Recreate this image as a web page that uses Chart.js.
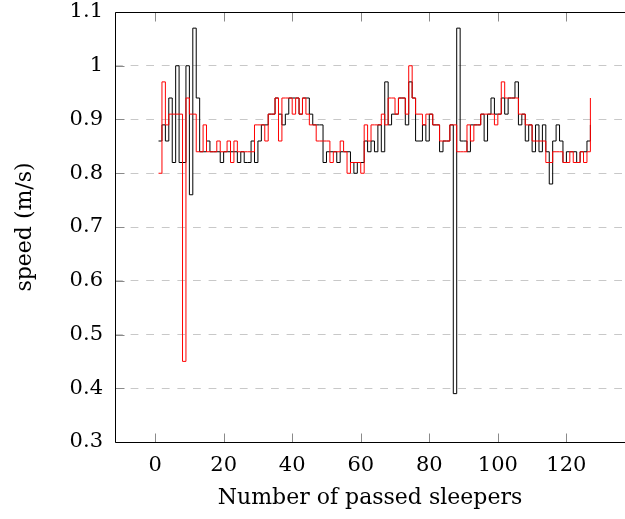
<!DOCTYPE html>
<html>
<head>
<meta charset="utf-8">
<title>Speed per sleeper</title>
<script src="https://cdn.jsdelivr.net/npm/chart.js@4.4.1/dist/chart.umd.min.js"></script>
<style>
  html, body { margin: 0; padding: 0; background: #fff; }
  #wrap { width: 625px; height: 519px; }
</style>
</head>
<body>
<div id="wrap"><canvas id="speedChart" width="625" height="519"></canvas></div>
<script>
(function () {
    "use strict";

    // Sleeper index (x) and measured speeds in m/s for both runs
    const sleepers = Array.from({ length: 127 }, (_, i) => i + 1);

    const speedBlack = [
        0.86, 0.89, 0.86, 0.94, 0.82, 1.00, 0.82, 0.82, 1.00, 0.76,
        1.07, 0.94, 0.84, 0.84, 0.86, 0.84, 0.84, 0.84, 0.82, 0.84,
        0.84, 0.84, 0.84, 0.82, 0.84, 0.82, 0.82, 0.86, 0.82, 0.86,
        0.89, 0.89, 0.91, 0.91, 0.94, 0.91, 0.89, 0.91, 0.94, 0.94,
        0.94, 0.91, 0.94, 0.94, 0.91, 0.89, 0.89, 0.89, 0.82, 0.84,
        0.84, 0.84, 0.82, 0.84, 0.84, 0.84, 0.82, 0.80, 0.82, 0.82,
        0.86, 0.84, 0.86, 0.84, 0.89, 0.84, 0.97, 0.89, 0.91, 0.91,
        0.94, 0.94, 0.89, 0.97, 0.94, 0.86, 0.86, 0.89, 0.86, 0.91,
        0.89, 0.89, 0.84, 0.86, 0.86, 0.89, 0.39, 1.07, 0.86, 0.86,
        0.84, 0.89, 0.89, 0.89, 0.91, 0.86, 0.91, 0.94, 0.91, 0.91,
        0.94, 0.91, 0.94, 0.94, 0.97, 0.89, 0.91, 0.86, 0.89, 0.84,
        0.89, 0.84, 0.89, 0.84, 0.78, 0.86, 0.89, 0.86, 0.82, 0.84,
        0.84, 0.84, 0.82, 0.84, 0.84, 0.86, 0.89
    ];

    const speedRed = [
        0.80, 0.97, 0.89, 0.91, 0.91, 0.91, 0.91, 0.45, 0.94, 0.91,
        0.91, 0.84, 0.84, 0.89, 0.84, 0.84, 0.84, 0.86, 0.84, 0.84,
        0.86, 0.82, 0.86, 0.84, 0.84, 0.84, 0.84, 0.84, 0.89, 0.89,
        0.89, 0.86, 0.91, 0.91, 0.94, 0.86, 0.94, 0.94, 0.94, 0.91,
        0.94, 0.91, 0.94, 0.91, 0.89, 0.89, 0.86, 0.86, 0.86, 0.86,
        0.82, 0.84, 0.84, 0.86, 0.84, 0.80, 0.82, 0.82, 0.82, 0.80,
        0.89, 0.86, 0.89, 0.89, 0.89, 0.91, 0.89, 0.94, 0.94, 0.91,
        0.94, 0.94, 0.91, 1.00, 0.94, 0.91, 0.91, 0.89, 0.91, 0.91,
        0.89, 0.89, 0.86, 0.86, 0.86, 0.89, 0.89, 0.84, 0.84, 0.84,
        0.89, 0.86, 0.89, 0.89, 0.91, 0.91, 0.91, 0.91, 0.89, 0.91,
        0.97, 0.94, 0.94, 0.94, 0.94, 0.91, 0.91, 0.89, 0.89, 0.86,
        0.86, 0.86, 0.86, 0.82, 0.82, 0.84, 0.84, 0.84, 0.82, 0.82,
        0.84, 0.82, 0.82, 0.84, 0.82, 0.84, 0.94
    ];

    const xTicks = [0, 20, 40, 60, 80, 100, 120];
    const yTicks = [0.3, 0.4, 0.5, 0.6, 0.7, 0.8, 0.9, 1.0, 1.1];

    const serif = 'DejaVu Serif';
    const tickLen = 9;

    const toPoints = (ys) => ys.map((y, i) => ({ x: sleepers[i], y: y }));

    // Axis frame (left/top/bottom) plus inward tick marks
    const frame = {
        id: 'frame',
        beforeDatasetsDraw(chart) {
            const { ctx, chartArea: a, scales: { x, y } } = chart;
            const l = Math.round(a.left) + 0.5;
            const t = Math.round(a.top) + 0.5;
            const b = Math.round(a.bottom) + 0.5;
            ctx.save();
            ctx.lineWidth = 1;
            ctx.strokeStyle = '#8a8a8a';
            ctx.beginPath();
            xTicks.forEach(v => {
                const px = Math.round(x.getPixelForValue(v)) + 0.5;
                ctx.moveTo(px, b); ctx.lineTo(px, b - tickLen);
                ctx.moveTo(px, t); ctx.lineTo(px, t + tickLen);
            });
            yTicks.forEach(v => {
                const py = Math.round(y.getPixelForValue(v)) + 0.5;
                ctx.moveTo(l, py); ctx.lineTo(l + tickLen, py);
            });
            ctx.stroke();
            ctx.strokeStyle = '#000';
            ctx.beginPath();
            ctx.moveTo(a.right, t);
            ctx.lineTo(l, t);
            ctx.lineTo(l, b);
            ctx.lineTo(a.right, b);
            ctx.stroke();
            ctx.restore();
        }
    };

    const ctx = document.getElementById('speedChart').getContext('2d');
    new Chart(ctx, {
        type: 'line',
        data: {
            datasets: [{
                label: 'run 2',
                data: toPoints(speedRed),
                borderColor: '#ff0000',
                borderWidth: 1,
                stepped: true,
                pointRadius: 0,
                fill: false,
                order: 0
            }, {
                label: 'run 1',
                data: toPoints(speedBlack),
                borderColor: '#000000',
                borderWidth: 1,
                stepped: true,
                pointRadius: 0,
                fill: false,
                order: 1
            }]
        },
        options: {
            responsive: false,
            devicePixelRatio: 1,
            animation: false,
            layout: { padding: { top: 12, left: 0, right: 0, bottom: 0 } },
            plugins: {
                legend: { display: false },
                tooltip: { enabled: false }
            },
            scales: {
                x: {
                    type: 'linear',
                    min: -11.7,
                    max: 137.1,
                    afterBuildTicks: (scale) => { scale.ticks = xTicks.map(v => ({ value: v })); },
                    afterFit: (scale) => {
                        scale.height = 77;
                        scale.paddingLeft = 0;
                        scale.paddingRight = 0;
                    },
                    grid: { display: false, drawTicks: false },
                    border: { display: false },
                    ticks: {
                        color: '#000',
                        padding: 11,
                        maxRotation: 0,
                        autoSkip: false,
                        font: { family: serif, size: 21 }
                    },
                    title: {
                        display: true,
                        text: 'Number of passed sleepers',
                        color: '#000',
                        font: { family: serif, size: 22 },
                        padding: { top: 0, bottom: 8 }
                    }
                },
                y: {
                    type: 'linear',
                    min: 0.3,
                    max: 1.1,
                    afterBuildTicks: (scale) => { scale.ticks = yTicks.map(v => ({ value: v })); },
                    afterFit: (scale) => {
                        scale.width = 115;
                        scale.paddingTop = 0;
                        scale.paddingBottom = 0;
                    },
                    grid: { color: '#c8c8c8', lineWidth: 1, drawTicks: false },
                    border: { display: false, dash: [7.8, 7.8] },
                    ticks: {
                        color: '#000',
                        padding: 12,
                        font: { family: serif, size: 21 },
                        callback: (v) => String(Number(v.toFixed(1)))
                    },
                    title: {
                        display: true,
                        text: 'speed (m/s)',
                        color: '#000',
                        font: { family: serif, size: 22 },
                        padding: { top: 12, bottom: 0 }
                    }
                }
            }
        },
        plugins: [frame]
    });
})();
</script>
</body>
</html>
